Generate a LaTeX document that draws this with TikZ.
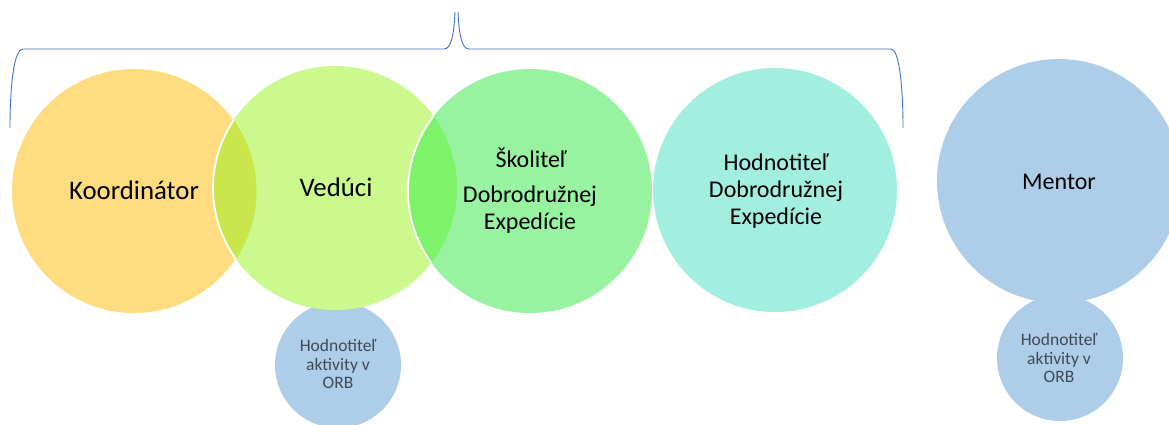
\documentclass[tikz,border=0pt]{standalone}
\usepackage{fontspec}
\setmainfont{Carlito}
\definecolor{korange}{HTML}{FFDC7F}
\definecolor{vgreen}{HTML}{CBF98D}
\definecolor{sgreen}{HTML}{97F3A0}
\definecolor{hteal}{HTML}{A2EFDF}
\definecolor{mblue}{HTML}{AECDE9}
\definecolor{ovone}{HTML}{CBE64C}
\definecolor{ovtwo}{HTML}{7FF26C}
\definecolor{bracec}{HTML}{4472C4}
\definecolor{smalltxt}{HTML}{3F4A58}
\tikzset{
  bigc/.style={circle,minimum size=244pt,inner sep=0pt},
  smallc/.style={circle,fill=mblue,minimum size=126pt,inner sep=0pt},
  smalltext/.style={align=center,text=smalltxt,font=\fontsize{17.5}{18.6}\selectfont},
  bracel/.style={draw=bracec,line width=0.9pt},
  lab/.style={align=center,text=black,font=\fontsize{24}{27}\selectfont},
  labbig/.style={align=center,text=black,font=\fontsize{26.8}{30}\selectfont}
}
\begin{document}
\begin{tikzpicture}[x=1pt,y=-1pt]
\useasboundingbox (0,0) rectangle (1169,424);
\clip (0,0) rectangle (1169,424);
\fill[white] (0,0) rectangle (1169,424);
% small circles
\node[smallc] (sa) at (338,365) {};
\node[smallc] (sb) at (1060,358) {};
\node[smalltext] (sat) at (338,364) {Hodnotiteľ\\aktivity v\\ORB};
\node[smalltext] (sbt) at (1059,358) {Hodnotiteľ\\aktivity v\\ORB};
% big circles
\node[bigc,fill=korange] (k) at (134,191) {};
\node[bigc,fill=vgreen] (v) at (335,188) {};
\begin{scope}
  \clip (134,191) circle[radius=122.5pt];
  \fill[ovone] (335,188) circle[radius=122pt];
  \draw[white,line width=1.8pt] (335,188) circle[radius=122pt];
\end{scope}
\node[bigc,fill=sgreen] (s) at (530,191) {};
\begin{scope}
  \clip (335,188) circle[radius=122pt];
  \fill[ovtwo] (530,191) circle[radius=122pt];
  \draw[white,line width=1.8pt] (530,191) circle[radius=122pt];
\end{scope}
\node[bigc,fill=hteal] (h) at (775,190) {};
\node[bigc,fill=mblue] (m) at (1059,181) {};
% labels
\node[labbig] (kt) at (134,190.5) {Koordinátor};
\node[labbig] (vt) at (336,187.5) {Vedúci};
\node[lab] (st1) at (531,158) {Školiteľ};
\node[lab] (st2) at (530,209.5) {Dobrodružnej\\Expedície};
\node[lab] (ht) at (776,191.5) {Hodnotiteľ\\Dobrodružnej\\Expedície};
\node[lab] (mt) at (1059,182) {Mentor};
% brace
\coordinate (bl) at (10,128);
\coordinate (bt1) at (455,12);
\coordinate (bt2) at (458,12);
\coordinate (br) at (903,128);
\draw[bracel] (bl) .. controls (10,85) and (14,49) .. (23,49) -- (444,49) .. controls (451,49) and (454,35) .. (bt1);
\draw[bracel] (bt2) .. controls (459,35) and (462,49) .. (469,49) -- (891,49) .. controls (899,49) and (903,85) .. (br);
\end{tikzpicture}
\end{document}
